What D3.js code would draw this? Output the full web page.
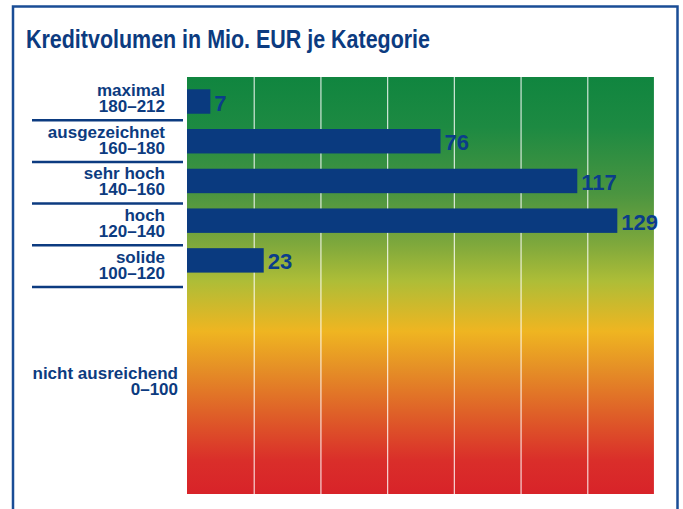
<!DOCTYPE html>
<html>
<head>
<meta charset="utf-8">
<script src="https://cdn.jsdelivr.net/npm/d3@7"></script>
<style>
  html, body { margin: 0; padding: 0; background: #fff; }
  svg { display: block; font-family: "Liberation Sans", Arial, Helvetica, sans-serif; }
</style>
</head>
<body>
<svg id="chart" width="683" height="509"></svg>
<script>
// ===== Data =====
const categories = ['maximal', 'ausgezeichnet', 'sehr hoch', 'hoch', 'solide', 'nicht ausreichend'];
const scoreRanges = ['180–212', '160–180', '140–160', '120–140', '100–120', '0–100'];
const volumes = [7, 76, 117, 129, 23];          // Mio. EUR, no bar for "nicht ausreichend"
const xTicks = [20, 40, 60, 80, 100, 120, 140];

// ===== Layout =====
const blue = '#0c3b80';
const barBlue = '#0a3a7f';
const plot = { left: 187, right: 654, top: 77, bottom: 494 };

const svg = d3.select('#chart');
const defs = svg.append('defs');

// Outer frame
svg.append('rect')
    .attr('x', 13).attr('y', 6.5)
    .attr('width', 664.5).attr('height', 600)
    .attr('fill', 'none')
    .attr('stroke', '#1a4d96')
    .attr('stroke-width', 2.5);

// Title (condensed look via textLength)
svg.append('text')
    .attr('x', 26).attr('y', 48)
    .attr('textLength', 404)
    .attr('lengthAdjust', 'spacingAndGlyphs')
    .style('font-size', '26px')
    .style('font-weight', 'bold')
    .style('fill', blue)
    .text('Kreditvolumen in Mio. EUR je Kategorie');

// ===== Scales =====
const x = d3.scaleLinear().domain([0, 140]).range([plot.left, plot.right]);

// Rows: top five categories take one slot each, the last one the remaining five
const slotCount = 10;
const ySlot = d3.scaleLinear().domain([0, slotCount]).range([plot.top, plot.bottom]);
const rows = categories.map((c, i) => {
    const end = i < categories.length - 1 ? i + 1 : slotCount;
    return { name: c, range: scoreRanges[i], y0: ySlot(i), y1: ySlot(end), last: i === categories.length - 1 };
});

const yBar = d3.scaleBand()
    .domain(categories.slice(0, volumes.length))
    .range([89.3, 272.6])
    .paddingInner(0.385)
    .paddingOuter(0);

// ===== Gradient background =====
const grad = defs.append('linearGradient')
    .attr('id', 'bgGrad')
    .attr('x1', 0).attr('y1', 0).attr('x2', 0).attr('y2', 1);
[
    [0.00, '#10853f'],
    [0.12, '#1d8a42'],
    [0.28, '#4b9540'],
    [0.40, '#7ea83c'],
    [0.49, '#aebd37'],
    [0.61, '#efb521'],
    [0.70, '#e58f26'],
    [0.80, '#df6328'],
    [0.92, '#da2e2a'],
    [1.00, '#d82329']
].forEach(([o, c]) => grad.append('stop').attr('offset', o).attr('stop-color', c));

svg.append('rect')
    .attr('x', x(0)).attr('y', plot.top)
    .attr('width', x(140) - x(0)).attr('height', plot.bottom - plot.top)
    .attr('fill', 'url(#bgGrad)');

// Vertical gridlines
svg.append('g')
    .selectAll('line')
    .data(xTicks)
    .join('line')
    .attr('x1', d => x(d) + 0.5).attr('x2', d => x(d) + 0.5)
    .attr('y1', plot.top).attr('y2', plot.bottom)
    .attr('stroke', '#ffffff')
    .attr('stroke-opacity', 0.8)
    .attr('stroke-width', 1.2);

// ===== Row separators and labels =====
const labelFont = 17;
svg.append('g')
    .selectAll('line')
    .data(rows.slice(0, rows.length - 1))
    .join('line')
    .attr('x1', 32).attr('x2', 183)
    .attr('y1', d => d.y1 + 1.5).attr('y2', d => d.y1 + 1.5)
    .attr('stroke', blue)
    .attr('stroke-width', 2.5);

const labels = svg.append('g')
    .selectAll('text')
    .data(rows)
    .join('text')
    .attr('text-anchor', 'end')
    .style('font-size', labelFont + 'px')
    .style('font-weight', 'bold')
    .style('fill', blue);

labels.each(function(d) {
    const el = d3.select(this);
    const cy = d.last ? 381 : (d.y0 + d.y1) / 2 + 0.5;
    const xr = d.last ? 178 : 165;
    el.append('tspan').attr('x', xr).attr('y', cy - 2.5).text(d.name);
    el.append('tspan').attr('x', xr).attr('y', cy + 13.5).text(d.range);
});

// ===== Bars =====
const barData = volumes.map((v, i) => ({ cat: categories[i], value: v }));

svg.append('g')
    .selectAll('rect')
    .data(barData)
    .join('rect')
    .attr('x', x(0))
    .attr('y', d => yBar(d.cat))
    .attr('width', d => x(d.value) - x(0))
    .attr('height', yBar.bandwidth())
    .attr('fill', barBlue);

svg.append('g')
    .selectAll('text')
    .data(barData)
    .join('text')
    .attr('x', d => x(d.value) + 4)
    .attr('y', d => yBar(d.cat) + yBar.bandwidth() / 2 + 9)
    .style('font-size', '22px')
    .style('font-weight', 'bold')
    .style('fill', '#0b3d8a')
    .text(d => d.value);
</script>
</body>
</html>
